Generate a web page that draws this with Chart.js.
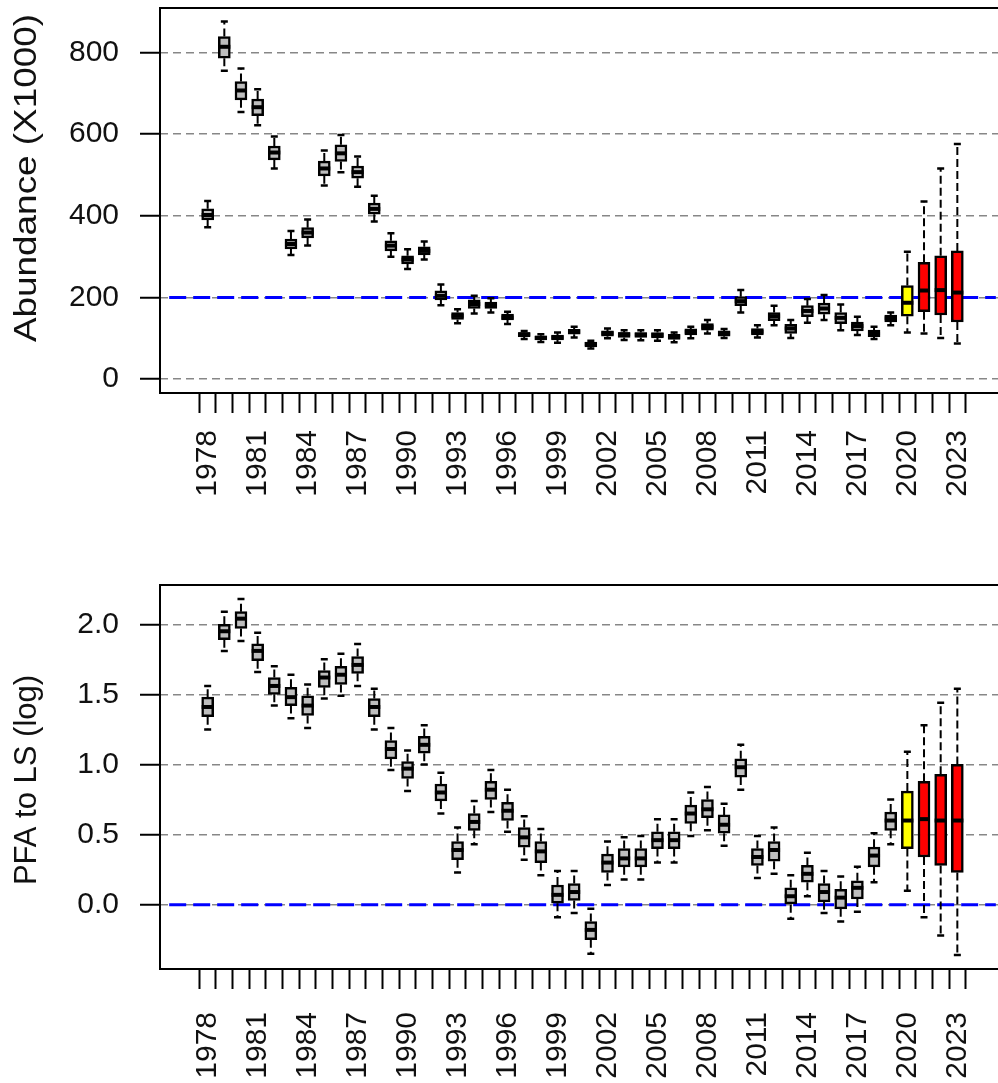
<!DOCTYPE html>
<html>
<head>
<meta charset="utf-8">
<script src="https://cdn.jsdelivr.net/npm/chart.js@4.4.1/dist/chart.umd.min.js"></script>
<style>
    html, body { margin: 0; padding: 0; background: #fff; overflow: hidden; width: 998px; height: 1083px; }
    canvas { position: absolute; left: 0; }
    #abundance { top: 0; }
    #ratio { top: 560px; }
</style>
</head>
<body>
<canvas id="abundance" width="1010" height="560"></canvas>
<canvas id="ratio" width="1010" height="523"></canvas>
<script>
// Survey years
var years = [1978, 1979, 1980, 1981, 1982, 1983, 1984, 1985, 1986, 1987,
    1988, 1989, 1990, 1991, 1992, 1993, 1994, 1995, 1996, 1997,
    1998, 1999, 2000, 2001, 2002, 2003, 2004, 2005, 2006, 2007,
    2008, 2009, 2010, 2011, 2012, 2013, 2014, 2015, 2016, 2017,
    2018, 2019, 2020, 2021, 2022, 2023];

// Abundance (X1000): whisker low, Q1, median, Q3, whisker high
var abundanceLow = [372, 755, 654, 622, 516, 304, 327, 474, 507, 471,
    386, 300, 270, 293, 181, 137, 161, 163, 135, 98,
    91, 89, 102, 75, 100, 96, 95, 94, 90, 100,
    112, 101, 163, 102, 132, 101, 138, 145, 120, 108,
    98, 132, 114, 112, 101, 87];
var abundanceQ1 = [390, 786, 684, 645, 537, 319, 346, 498, 533, 492,
    404, 314, 282, 304, 194, 146, 173, 173, 145, 104,
    96, 96, 110, 79, 105, 102, 102, 101, 97, 108,
    120, 105, 180, 108, 143, 112, 153, 159, 136, 118,
    104, 140, 154, 165, 157, 140];
var abundanceMedian = [402, 814, 707, 666, 555, 331, 359, 516, 553, 507,
    417, 327, 293, 314, 204, 155, 184, 181, 151, 110,
    101, 102, 116, 86, 112, 110, 109, 108, 104, 116,
    128, 112, 191, 116, 154, 124, 167, 173, 150, 130,
    112, 149, 187, 217, 218, 212];
var abundanceQ3 = [417, 839, 729, 686, 571, 343, 371, 534, 574, 522,
    431, 339, 302, 324, 216, 163, 194, 189, 159, 114,
    106, 108, 122, 91, 118, 114, 114, 114, 110, 123,
    136, 118, 202, 124, 163, 134, 180, 186, 163, 140,
    120, 157, 229, 286, 302, 314];
var abundanceHigh = [436, 876, 761, 710, 594, 363, 391, 560, 598, 545,
    449, 357, 318, 337, 232, 171, 204, 198, 165, 118,
    110, 114, 128, 94, 124, 120, 120, 120, 114, 128,
    145, 123, 218, 132, 180, 145, 196, 206, 183, 153,
    128, 163, 312, 435, 516, 576];

// PFA to LS (log): whisker low, Q1, median, Q3, whisker high
var ratioLow = [1.25, 1.81, 1.88, 1.66, 1.42, 1.33, 1.26, 1.47, 1.49, 1.56,
    1.25, 0.96, 0.81, 1.00, 0.65, 0.23, 0.43, 0.66, 0.52, 0.32,
    0.21, -0.09, -0.06, -0.35, 0.14, 0.18, 0.18, 0.30, 0.30, 0.49,
    0.53, 0.42, 0.82, 0.19, 0.22, -0.10, 0.06, -0.06, -0.12, -0.05,
    0.16, 0.43, 0.10, -0.09, -0.22, -0.36];
var ratioQ1 = [1.34, 1.89, 1.97, 1.74, 1.50, 1.42, 1.35, 1.55, 1.57, 1.65,
    1.34, 1.04, 0.90, 1.08, 0.74, 0.32, 0.53, 0.75, 0.60, 0.41,
    0.30, 0.01, 0.03, -0.25, 0.23, 0.27, 0.27, 0.40, 0.40, 0.58,
    0.62, 0.51, 0.91, 0.28, 0.31, 0.00, 0.16, 0.02, -0.03, 0.04,
    0.27, 0.53, 0.40, 0.34, 0.28, 0.23];
var ratioMedian = [1.41, 1.95, 2.04, 1.81, 1.56, 1.48, 1.42, 1.62, 1.64, 1.71,
    1.41, 1.11, 0.97, 1.14, 0.80, 0.39, 0.59, 0.82, 0.67, 0.48,
    0.38, 0.07, 0.09, -0.18, 0.30, 0.33, 0.33, 0.46, 0.46, 0.65,
    0.68, 0.57, 0.98, 0.34, 0.39, 0.06, 0.22, 0.09, 0.05, 0.12,
    0.35, 0.60, 0.60, 0.61, 0.60, 0.60];
var ratioQ3 = [1.48, 2.00, 2.09, 1.86, 1.62, 1.55, 1.49, 1.67, 1.70, 1.77,
    1.47, 1.17, 1.02, 1.20, 0.86, 0.45, 0.65, 0.88, 0.73, 0.55,
    0.45, 0.14, 0.15, -0.12, 0.36, 0.40, 0.40, 0.52, 0.52, 0.71,
    0.75, 0.64, 1.04, 0.40, 0.45, 0.12, 0.28, 0.15, 0.11, 0.17,
    0.41, 0.66, 0.81, 0.88, 0.93, 1.00];
var ratioHigh = [1.56, 2.09, 2.18, 1.94, 1.70, 1.64, 1.57, 1.75, 1.79, 1.86,
    1.54, 1.26, 1.10, 1.28, 0.94, 0.55, 0.74, 0.96, 0.82, 0.63,
    0.54, 0.24, 0.24, -0.03, 0.45, 0.48, 0.49, 0.61, 0.61, 0.80,
    0.84, 0.72, 1.14, 0.49, 0.55, 0.21, 0.37, 0.24, 0.20, 0.27,
    0.51, 0.75, 1.09, 1.28, 1.44, 1.54];

// Axis ticks and reference levels
var abundanceTicks = [0, 200, 400, 600, 800];
var ratioTicks = [0, 0.5, 1.0, 1.5, 2.0];
var abundanceTarget = 200;
var ratioTarget = 0;
var labelEvery = 3;
var xMin = 1975.69, xMax = 2025.31;

var FONT = '"Liberation Sans", Arial, sans-serif';

/**
 * Box fill by year: grey history, yellow for 2020, red for the later years.
 */
function boxColor(year) {
    if (year === 2020) return '#ffff00';
    if (year > 2020) return '#ff0000';
    return '#bebebe';
}

/**
 * Draws whiskers, caps and medians on top of the floating bars.
 */
function makeBoxPlugin(low, median, q1, q3, high) {
    return {
        id: 'boxWhiskers',
        afterDatasetsDraw: function(chart) {
            var ctx = chart.ctx,
                xs = chart.scales.x,
                ys = chart.scales.y,
                area = chart.chartArea;

            ctx.save();
            ctx.beginPath();
            ctx.rect(area.left, area.top, area.right - area.left, area.bottom - area.top);
            ctx.clip();
            ctx.strokeStyle = '#000';

            years.forEach(function(year, i) {
                var px = xs.getPixelForValue(year),
                    pLow = ys.getPixelForValue(low[i]),
                    pHigh = ys.getPixelForValue(high[i]),
                    pMed = ys.getPixelForValue(median[i]);

                // dashed whiskers
                ctx.lineWidth = 2;
                ctx.setLineDash([8, 4]);
                ctx.beginPath();
                ctx.moveTo(px, ys.getPixelForValue(q3[i]));
                ctx.lineTo(px, pHigh);
                ctx.moveTo(px, ys.getPixelForValue(q1[i]));
                ctx.lineTo(px, pLow);
                ctx.stroke();

                // caps
                ctx.setLineDash([]);
                ctx.lineWidth = 2.5;
                ctx.beginPath();
                ctx.moveTo(px - 3.5, pHigh);
                ctx.lineTo(px + 3.5, pHigh);
                ctx.moveTo(px - 3.5, pLow);
                ctx.lineTo(px + 3.5, pLow);
                ctx.stroke();

                // median
                ctx.lineWidth = 4;
                ctx.beginPath();
                ctx.moveTo(px - 6, pMed);
                ctx.lineTo(px + 6, pMed);
                ctx.stroke();
            });
            ctx.restore();
        }
    };
}

/**
 * Plot frame and rotated y title (stretch = extra scale along the text).
 */
function makeFramePlugin(title, titleX, titleY, titleSize, stretch) {
    return {
        id: 'frameAndTitle',
        afterDraw: function(chart) {
            var ctx = chart.ctx,
                area = chart.chartArea;

            ctx.save();
            ctx.strokeStyle = '#000';
            ctx.lineWidth = 2;
            ctx.strokeRect(area.left, area.top, area.right - area.left, area.bottom - area.top);

            ctx.translate(titleX, titleY);
            ctx.rotate(-Math.PI / 2);
            ctx.scale(stretch, 1);
            ctx.fillStyle = '#111';
            ctx.font = titleSize + 'px ' + FONT;
            ctx.textAlign = 'center';
            ctx.textBaseline = 'middle';
            ctx.fillText(title, 0, 0);
            ctx.restore();
        }
    };
}

function initBoxChart(canvasId, cfg) {
    return new Chart(document.getElementById(canvasId).getContext('2d'), {
        type: 'bar',
        data: {
            datasets: [{
                type: 'bar',
                data: years.map(function(year, i) {
                    return {x: year, y: [cfg.q1[i], cfg.q3[i]]};
                }),
                backgroundColor: years.map(boxColor),
                borderColor: '#000',
                borderWidth: 2.5,
                borderSkipped: false,
                barThickness: 12,
                grouped: false,
                order: 0
            }, {
                type: 'line',
                data: [{x: xMin, y: cfg.target}, {x: xMax, y: cfg.target}],
                borderColor: '#0000ff',
                borderWidth: 3,
                borderDash: [17, 7],
                pointRadius: 0,
                order: 1
            }]
        },
        plugins: [
            makeBoxPlugin(cfg.low, cfg.median, cfg.q1, cfg.q3, cfg.high),
            makeFramePlugin(cfg.title, 27, cfg.titleY, cfg.titleSize, cfg.titleStretch)
        ],
        options: {
            responsive: false,
            animation: false,
            devicePixelRatio: 1,
            layout: {padding: {top: cfg.padTop, right: 5, left: 0, bottom: 0}},
            plugins: {legend: {display: false}, tooltip: {enabled: false}},
            scales: {
                x: {
                    type: 'linear',
                    bounds: 'data',
                    min: xMin,
                    max: xMax,
                    afterBuildTicks: function(scale) {
                        scale.ticks = years.map(function(v) { return {value: v}; });
                    },
                    afterFit: function(scale) {
                        scale.height = cfg.xAxisHeight;
                        scale.paddingLeft = 0;
                        scale.paddingRight = 0;
                    },
                    grid: {drawOnChartArea: false, drawTicks: true, tickLength: 20, tickColor: '#000', tickWidth: 2},
                    border: {display: false},
                    ticks: {
                        autoSkip: false,
                        minRotation: 90,
                        maxRotation: 90,
                        padding: cfg.xLabelPad,
                        color: '#111',
                        font: {family: FONT, size: 30},
                        callback: function(v) {
                            return (v - years[0]) % labelEvery === 0 ? String(v) : '';
                        }
                    }
                },
                y: {
                    type: 'linear',
                    bounds: 'data',
                    min: cfg.yMin,
                    max: cfg.yMax,
                    afterBuildTicks: function(scale) {
                        scale.ticks = cfg.ticks.map(function(v) { return {value: v}; });
                    },
                    afterFit: function(scale) {
                        scale.width = 160;
                        scale.paddingTop = 0;
                        scale.paddingBottom = 0;
                    },
                    grid: {color: '#878787', lineWidth: 1.5, drawTicks: true, tickLength: 20, tickColor: '#000', tickWidth: 2},
                    border: {display: false, dash: [8, 5]},
                    ticks: {
                        padding: 21,
                        color: '#111',
                        font: {family: FONT, size: 30},
                        callback: cfg.format
                    }
                }
            }
        }
    });
}

initBoxChart('abundance', {
    low: abundanceLow, q1: abundanceQ1, median: abundanceMedian, q3: abundanceQ3, high: abundanceHigh,
    ticks: abundanceTicks, target: abundanceTarget,
    yMin: -34, yMax: 909,
    title: 'Abundance (X1000)', titleY: 178, titleSize: 31, titleStretch: 1.19,
    padTop: 8, xAxisHeight: 167, xLabelPad: 17,
    format: function(v) { return String(v); }
});

initBoxChart('ratio', {
    low: ratioLow, q1: ratioQ1, median: ratioMedian, q3: ratioQ3, high: ratioHigh,
    ticks: ratioTicks, target: ratioTarget,
    yMin: -0.459, yMax: 2.28,
    title: 'PFA to LS (log)', titleY: 220, titleSize: 31, titleStretch: 1,
    padTop: 25, xAxisHeight: 114, xLabelPad: 23,
    format: function(v) { return v.toFixed(1); }
});
</script>
</body>
</html>
